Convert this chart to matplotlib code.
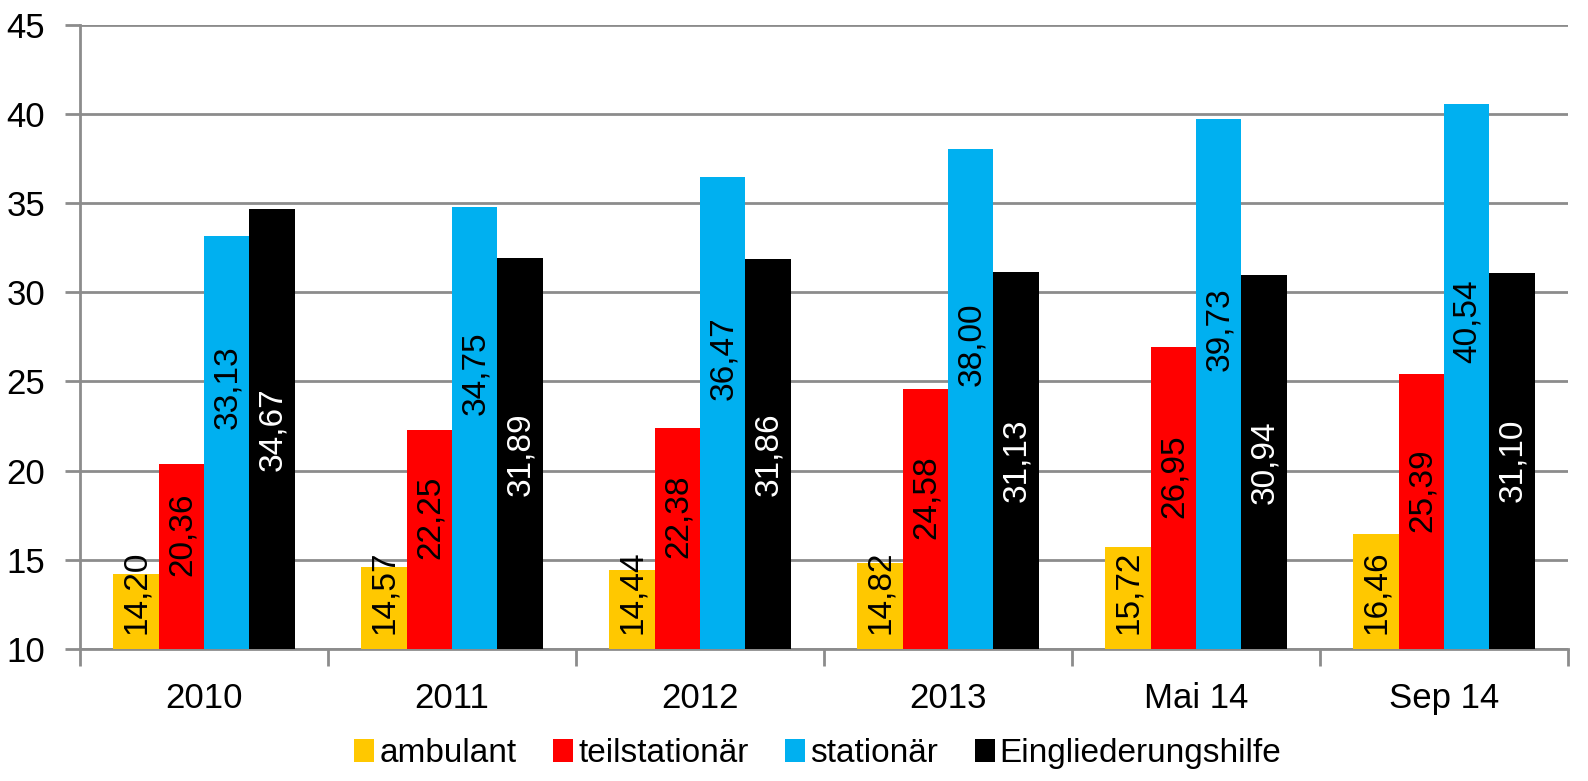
import numpy as np
import matplotlib
matplotlib.use("Agg")
import matplotlib.pyplot as plt
from matplotlib.patches import Patch

plt.rcParams['font.family'] = ['Liberation Sans Narrow', 'Liberation Sans', 'DejaVu Sans']

# -------------------------------
# Data
# -------------------------------
categories = ["2010", "2011", "2012", "2013", "Mai 14", "Sep 14"]
series_names = ["ambulant", "teilstationär", "stationär", "Eingliederungshilfe"]
ambulant = [14.20, 14.57, 14.44, 14.82, 15.72, 16.46]
teilstationaer = [20.36, 22.25, 22.38, 24.58, 26.95, 25.39]
stationaer = [33.13, 34.75, 36.47, 38.00, 39.73, 40.54]
eingliederung = [34.67, 31.89, 31.86, 31.13, 30.94, 31.10]

colors = ["#FFC800", "#FF0000", "#00B0F0", "#000000"]
label_colors = ["black", "black", "black", "white"]

all_series = [ambulant, teilstationaer, stationaer, eingliederung]

# -------------------------------
# Plot
# -------------------------------
fig = plt.figure(figsize=(15.88, 7.81), dpi=100)
ax = fig.add_axes([0.0504, 0.169, 0.937, 0.7996])

y_min = 10
bar_w = 0.183
x = np.arange(len(categories))

for k, (vals, col) in enumerate(zip(all_series, colors)):
    pos = x + (k - 1.5) * bar_w
    heights = [v - y_min for v in vals]
    ax.bar(pos, heights, bottom=y_min, width=bar_w, color=col,
           edgecolor="none", zorder=3)
    for px, v in zip(pos, vals):
        txt = f"{v:.2f}".replace(".", ",")
        if k == 0:
            # small bars: label sits at the base
            ax.annotate(txt, (px, y_min), xytext=(1, 15), textcoords="offset pixels",
                        rotation=90, ha="center", va="bottom", fontsize=24,
                        color=label_colors[k], zorder=4)
        else:
            shift = {1: 22, 2: 55, 3: 0}[k]
            ax.annotate(txt, (px, (y_min + v) / 2), xytext=(1, shift),
                        textcoords="offset pixels", rotation=90, ha="center",
                        va="center", fontsize=24, color=label_colors[k], zorder=4)

ax.set_xlim(-0.5, len(categories) - 0.5)
ax.set_ylim(10, 45)
ax.set_yticks(np.arange(10, 46, 5))
ax.set_xticks(x)
ax.set_xticklabels(categories)
ax.set_xticks(np.arange(-0.5, len(categories), 1), minor=True)

grid_col = "#8C8C8C"
ax.yaxis.grid(True, color=grid_col, linewidth=2, zorder=0)
ax.tick_params(axis="y", which="major", length=11, width=2, color=grid_col,
               labelsize=25, pad=14)
ax.tick_params(axis="x", which="major", length=0, labelsize=25, pad=24)
ax.tick_params(axis="x", which="minor", length=12, width=2, color=grid_col)

for side in ["top", "right"]:
    ax.spines[side].set_visible(False)
for side in ["left", "bottom"]:
    ax.spines[side].set_color(grid_col)
    ax.spines[side].set_linewidth(2)

handles = [Patch(facecolor=c, edgecolor="none") for c in colors]
fig.legend(handles, series_names, loc="center", bbox_to_anchor=(0.515, 0.035),
           ncol=4, frameon=False, fontsize=24, handlelength=0.6, handleheight=0.7,
           handletextpad=0.15, columnspacing=1.1)

fig.savefig("out.png", dpi=100)
